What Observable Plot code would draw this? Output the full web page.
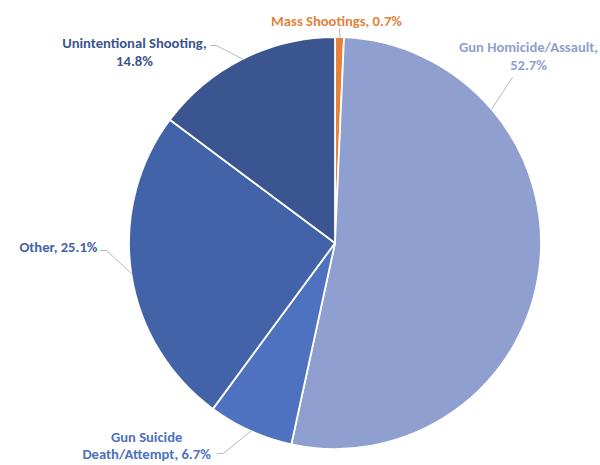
<!DOCTYPE html>
<html>
<head>
<meta charset="utf-8">
<script src="https://cdn.jsdelivr.net/npm/d3@7"></script>
<script src="https://cdn.jsdelivr.net/npm/@observablehq/plot@0.6"></script>
<style>
  html, body { margin: 0; padding: 0; background: #fff; }
  #chart svg { display: block; }
</style>
</head>
<body>
<div id="chart"></div>
<script>
// ---- data (clockwise from 12 o'clock) ----
const categories = ["Mass Shootings", "Gun Homicide/Assault", "Gun Suicide Death/Attempt", "Other", "Unintentional Shooting"];
const shares = [0.7, 52.7, 6.7, 25.1, 14.8];
const labelTemplates = ["Mass Shootings, {v}", "Gun Homicide/Assault,\n{v}", "Gun Suicide\nDeath/Attempt, {v}", "Other, {v}", "Unintentional Shooting,\n{v}"];
const colors = ["#E5813B", "#8F9FD0", "#4E72BF", "#4263A8", "#3B5590"];

// ---- layout (label centres and leader ends, in pie-radius units relative to centre) ----
const labelX = [0.005, 0.937, -0.917, -1.345, -0.976];
const labelY = [1.083, 0.913, -0.978, -0.015, 0.932];
// leader start (label side), optional elbow, and angle override (degrees clockwise from top)
const leaderStart = [[0.019, 1.044], [0.859, 0.806], [-0.573, -1.019], [-1.141, -0.034], [-0.607, 0.961]];
const leaderElbow = [null, null, [-0.544, -1.019], [-1.112, -0.034], [-0.578, 0.961]];
const leaderAngle = [null, 49.3, null, null, null];

const CX = 335, CY = 243, R = 206, W = 600, H = 465;

const arcs = d3.pie().sort(null).value(d => d)(shares);
const rows = categories.map((c, i) => ({
  category: c,
  share: shares[i],
  color: colors[i],
  label: labelTemplates[i].replace("{v}", shares[i].toFixed(1) + "%"),
  lx: labelX[i],
  ly: labelY[i],
  start: arcs[i].startAngle,
  end: arcs[i].endAngle
}));

const leaders = [];
rows.forEach((r, i) => {
  const a = leaderAngle[i] != null ? leaderAngle[i] * Math.PI / 180 : (r.start + r.end) / 2;
  const pts = [leaderStart[i]];
  if (leaderElbow[i]) pts.push(leaderElbow[i]);
  pts.push([Math.sin(a), Math.cos(a)]);
  pts.forEach(p => leaders.push({category: r.category, x: p[0], y: p[1]}));
});

function pieMark(...args) {
  const s = args.find(a => a && typeof a.x === "function" && typeof a.y === "function");
  const x = s.x, y = s.y;
  const radius = x(1) - x(0);
  const arc = d3.arc().innerRadius(0).outerRadius(radius);
  const g = d3.create("svg:g").attr("transform", `translate(${x(0)},${y(0)})`);
  g.selectAll("path")
    .data(arcs)
    .join("path")
    .attr("d", arc)
    .attr("fill", (d, i) => colors[i])
    .attr("stroke", "#fff")
    .attr("stroke-width", 1.8)
    .attr("stroke-linejoin", "round");
  return g.node();
}

const plot = Plot.plot({
  width: W,
  height: H,
  margin: 0,
  x: {domain: [-CX / R, (W - CX) / R], axis: null},
  y: {domain: [-(H - CY) / R, CY / R], axis: null},
  style: {background: "#fff"},
  marks: [
    pieMark,
    Plot.line(leaders, {x: "x", y: "y", z: "category", stroke: "#A6A6A6", strokeWidth: 0.8}),
    Plot.text(rows, {
      x: "lx", y: "ly", text: "label",
      fill: d => d.color,
      fontFamily: "Carlito, Calibri, Lato, sans-serif",
      fontWeight: "bold",
      fontSize: 14.6,
      lineHeight: 1.18,
      textAnchor: "middle"
    })
  ]
});

document.getElementById("chart").append(plot);
</script>
</body>
</html>
